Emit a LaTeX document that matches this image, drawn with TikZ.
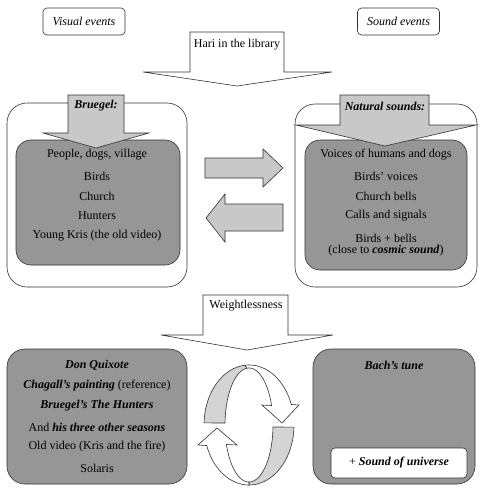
\documentclass[tikz,border=0pt]{standalone}
\usepackage{fontspec}
\setmainfont{Liberation Serif}
\definecolor{lg}{RGB}{200,200,200}
\definecolor{mg}{RGB}{150,150,150}
\definecolor{bandg}{RGB}{212,212,212}
\definecolor{ln}{RGB}{50,50,50}
\newcommand{\tx}{\fontsize{12}{13.5}\selectfont}
\begin{document}
\begin{tikzpicture}[x=1pt,y=-1pt,
  every node/.style={font=\tx, inner sep=0pt},
  outerbox/.style={draw=ln, line width=0.6pt, fill=white, rounded corners=20pt},
  graybox/.style={draw=ln, line width=0.6pt, fill=mg, rounded corners=15pt},
  blockarrow/.style={draw=ln, line width=0.6pt, fill=lg},
  whitearrow/.style={draw=ln, line width=0.6pt, fill=white},
  bandpart/.style={draw=ln, line width=0.6pt, fill=bandg},
  labelbox/.style={draw=ln, line width=0.6pt, rounded corners=4pt, fill=white, minimum width=82pt, minimum height=27pt, font=\tx\itshape},
  bi/.style={font=\tx\bfseries\itshape}]
\useasboundingbox (0,0) rectangle (481,496);

% top labels
\node[labelbox] (visual) at (84,21.5) {Visual events};
\node[labelbox] (sound) at (398.5,21.5) {Sound events};

% Hari arrow
\draw[whitearrow] (190,32) -- (284,32) -- (284,72) -- (332,72) -- (237,86) -- (143,72) -- (190,72) -- cycle;
\node (hari) at (237,45) {Hari in the library};

% left panel
\draw[outerbox] (7,103) rectangle (187,287);
\draw[graybox] (16,140) rectangle (180,265);
\draw[blockarrow] (68,95) -- (124,95) -- (124,133) -- (149,133) -- (96,148) -- (43,133) -- (68,133) -- cycle;
\node[bi] (bruegel) at (96,106) {Bruegel:};
\node (l1) at (97,155) {People, dogs, village};
\node (l2) at (97,176) {Birds};
\node (l3) at (97,196) {Church};
\node (l4) at (97,216) {Hunters};
\node (l5) at (97,236) {Young Kris (the old video)};

% right panel
\draw[outerbox] (295,104) rectangle (477,287);
\draw[graybox] (305,140) rectangle (467,270);
\draw[blockarrow] (340,95) -- (429,95) -- (429,125) -- (476,125) -- (385,146) -- (296,125) -- (340,125) -- cycle;
\node[bi] (natural) at (385,106) {Natural sounds:};
\node (r1) at (386,155) {Voices of humans and dogs};
\node (r2) at (386,176) {Birds' voices};
\node (r3) at (386,196) {Church bells};
\node (r4) at (386,216) {Calls and signals};
\node (r5) at (386,238) {Birds + bells};
\node (r6) at (386,251) {(close to \textbf{\textit{cosmic sound}})};

% middle arrows
\draw[blockarrow] (205,158) -- (263,158) -- (263,149) -- (283,168) -- (263,187) -- (263,178) -- (205,178) -- cycle;
\draw[blockarrow] (283,204) -- (225,204) -- (225,194) -- (206,218) -- (225,242) -- (225,231) -- (283,231) -- cycle;

% weightlessness arrow
\draw[whitearrow] (203,295) -- (288,295) -- (288,335) -- (333,335) -- (247,350) -- (161,335) -- (203,335) -- cycle;
\node (weight) at (246,306) {Weightlessness};

% bottom boxes
\draw[graybox, rounded corners=18pt] (7,349) rectangle (187,484);
\node[bi] (b1) at (97,365) {Don Quixote};
\node (b2) at (97,386) {\textbf{\textit{Chagall's painting}} (reference)};
\node[bi] (b3) at (97,406) {Bruegel's The Hunters};
\node (b4) at (97,427) {And \textbf{\textit{his three other seasons}}};
\node (b5) at (97,447) {Old video (Kris and the fire)};
\node (b6) at (97,468) {Solaris};

\draw[graybox, rounded corners=18pt] (313,349) rectangle (475,484);
\node[bi] (bach) at (394,365) {Bach's tune};
\node[draw=ln, line width=0.6pt, fill=white, rounded corners=4pt, minimum width=136pt, minimum height=30pt] (univ) at (399,463) {+ \textbf{\textit{Sound of universe}}};

% circular arrows
\draw[bandpart] plot[variable=\t, domain=178:95, samples=30] ({249+45*cos(\t)},{425-60*sin(\t)})
  -- plot[variable=\t, domain=95:178, samples=30] ({249+24*cos(\t)},{425-57*sin(\t)}) -- cycle;
\draw[whitearrow] plot[variable=\t, domain=95:20, samples=30] ({249+45*cos(\t)},{425-60*sin(\t)})
  -- (299,405) -- (282,423) -- (262,405)
  -- plot[variable=\t, domain=20:95, samples=30] ({249+24*cos(\t)},{425-57*sin(\t)}) -- cycle;
\draw[bandpart] plot[variable=\t, domain=-2:-90, samples=30] ({249+45*cos(\t)},{425-60*sin(\t)})
  -- plot[variable=\t, domain=-90:-2, samples=30] ({249+24*cos(\t)},{425-57*sin(\t)}) -- cycle;
\draw[whitearrow] plot[variable=\t, domain=-90:-160, samples=30] ({249+45*cos(\t)},{425-60*sin(\t)})
  -- (198,445) -- (217,428) -- (237,445)
  -- plot[variable=\t, domain=-160:-90, samples=30] ({249+24*cos(\t)},{425-57*sin(\t)}) -- cycle;
\end{tikzpicture}
\end{document}
